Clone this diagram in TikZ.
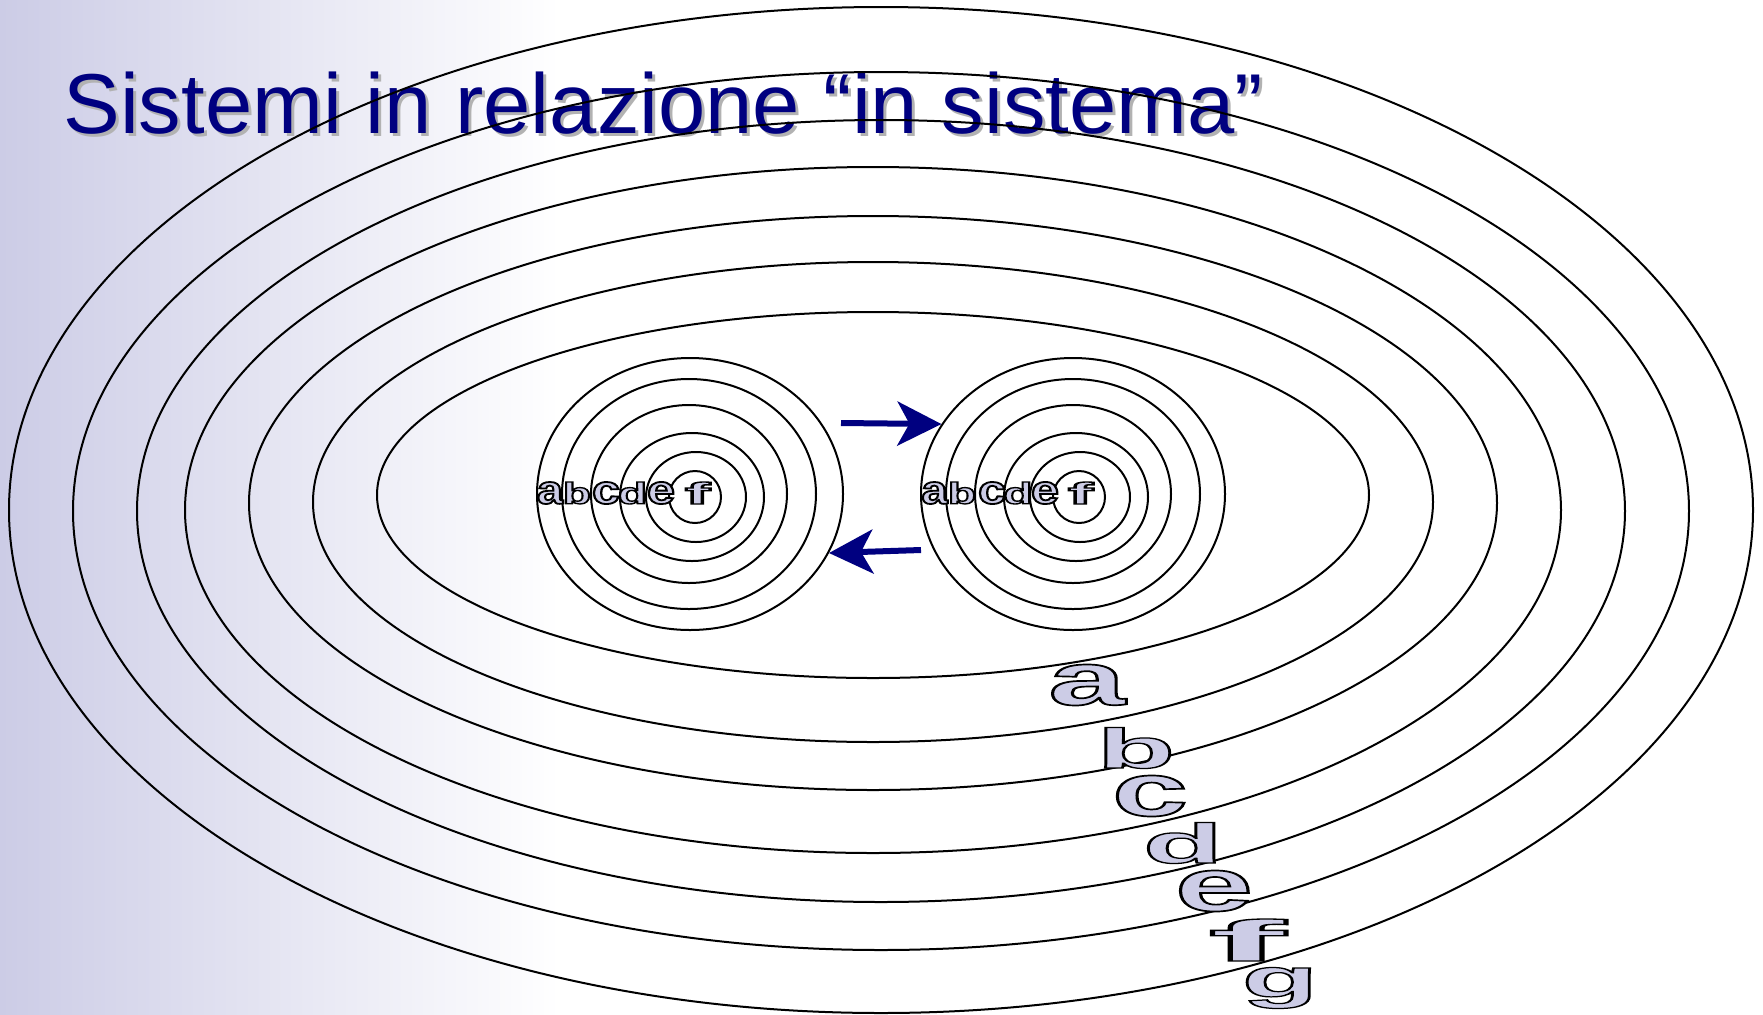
\documentclass[tikz,border=0pt]{standalone}
\usepackage{fontspec}
\setmainfont{Liberation Sans}
\usepackage{graphicx}
\usetikzlibrary{arrows.meta,positioning,shapes.geometric}
\definecolor{SlideNavy}{RGB}{0,0,128}
\definecolor{SlideLavender}{RGB}{204,204,230}
\definecolor{ShadowGray}{RGB}{178,178,178}
% filled letter with a black outline (text render mode 2)
\newcommand{\artletter}[3]{\resizebox*{#1}{#2}{\special{pdf:literal direct 2 Tr 0.45 w 0 0 0 RG}#3\special{pdf:literal direct 0 Tr}}}

\begin{document}
\begin{tikzpicture}[
  x=0.5pt, y=-0.5pt,
  orbit/.style={draw, ellipse, line width=1pt, inner sep=0pt},
  glyph/.style={inner sep=0pt, text=SlideLavender, font=\bfseries},
  bigglyph/.style={glyph, font=\fontsize{20}{24}\selectfont\bfseries},
  heading/.style={anchor=base west, inner sep=0pt, font=\fontsize{42.5}{50}\selectfont},
  arr/.style={-{Stealth[length=22pt, width=22pt, inset=6pt]}, line width=3pt, SlideNavy}
]
  \useasboundingbox (0,0) rectangle (1763,1014);
  \fill[white] (0,0) rectangle (1763,1014);
  \shade[left color=SlideLavender, right color=white] (0,0) rectangle (560,1014);

  % title with its shadow
  \node[heading, text=ShadowGray] (titleshadow) at (66,136) {Sistemi in relazione “in sistema”};
  \node[heading, text=SlideNavy] (title) at (63,133) {Sistemi in relazione “in sistema”};

  % the seven outer systems
  \node[orbit, minimum width=872pt, minimum height=503pt] (E1) at (881,510) {};
  \node[orbit, minimum width=808pt, minimum height=439pt] (E2) at (881,511) {};
  \node[orbit, minimum width=744pt, minimum height=391pt] (E3) at (881,511) {};
  \node[orbit, minimum width=688pt, minimum height=343pt] (E4) at (873,510) {};
  \node[orbit, minimum width=624pt, minimum height=287pt] (E5) at (873,503) {};
  \node[orbit, minimum width=560pt, minimum height=240pt] (E6) at (873,502) {};
  \node[orbit, minimum width=496pt, minimum height=183pt] (E7) at (873,495) {};

  % left system
  \node[orbit, minimum width=153pt, minimum height=136pt] (L1) at (690,494) {};
  \node[orbit, minimum width=127pt, minimum height=115pt] (L2) at (689,494) {};
  \node[orbit, minimum width=98pt, minimum height=89pt] (L3) at (689,494) {};
  \node[orbit, minimum width=72pt, minimum height=64pt] (L4) at (692,497) {};
  \node[orbit, minimum width=50pt, minimum height=45pt] (L5) at (696,497) {};
  \node[orbit, minimum width=26pt, minimum height=26pt] (L6) at (695,497) {};

  % right system
  \node[orbit, minimum width=152pt, minimum height=136pt] (R1) at (1073,494) {};
  \node[orbit, minimum width=127pt, minimum height=115pt] (R2) at (1073,494) {};
  \node[orbit, minimum width=98pt, minimum height=89pt] (R3) at (1073,494) {};
  \node[orbit, minimum width=72pt, minimum height=64pt] (R4) at (1076,497) {};
  \node[orbit, minimum width=50pt, minimum height=45pt] (R5) at (1080,497) {};
  \node[orbit, minimum width=26pt, minimum height=26pt] (R6) at (1079,497) {};

  % exchanges between the two systems
  \coordinate (fwdstart) at (841,423);
  \coordinate (backstart) at (921,550);
  \draw[arr] (fwdstart) -- (R1.152);
  \draw[arr] (backstart) -- (L1.-23);

  % labels of the left system
  \node[glyph] (la) at (550,493) {\artletter{13pt}{11pt}{a}};
  \node[glyph] (lb) at (577,493) {\artletter{14pt}{11pt}{b}};
  \node[glyph] (lc) at (606,493) {\artletter{14pt}{11pt}{c}};
  \node[glyph] (ld) at (632.5,493) {\artletter{14.5pt}{11pt}{d}};
  \node[glyph] (le) at (661,493) {\artletter{14pt}{11pt}{e}};
  \node[glyph] (lf) at (697.5,493) {\artletter{12.5pt}{11pt}{f}};

  % labels of the right system
  \node[glyph] (ra) at (934.5,493) {\artletter{13pt}{11pt}{a}};
  \node[glyph] (rb) at (962,493) {\artletter{14pt}{11pt}{b}};
  \node[glyph] (rc) at (992,493) {\artletter{14pt}{11pt}{c}};
  \node[glyph] (rd) at (1018,493) {\artletter{14.5pt}{11pt}{d}};
  \node[glyph] (re) at (1045,493) {\artletter{14pt}{11pt}{e}};
  \node[glyph] (rf) at (1080.5,493) {\artletter{12.5pt}{11pt}{f}};

  % labels of the outer systems
  \node[bigglyph] (ga) at (1087,685) {\artletter{38.5pt}{20.5pt}{a}};
  \node[bigglyph] (gb) at (1136,748) {\artletter{39pt}{20.5pt}{b}};
  \node[bigglyph] (gc) at (1150,796) {\artletter{38pt}{20.5pt}{c}};
  \node[bigglyph] (gd) at (1183,843) {\artletter{40pt}{20.5pt}{d}};
  \node[bigglyph] (ge) at (1214,891) {\artletter{39pt}{20.5pt}{e}};
  \node[bigglyph] (gf) at (1247,940) {\artletter{38.5pt}{21pt}{f}};
  \node[bigglyph] (gg) at (1280,988) {\artletter{38pt}{20.5pt}{g}};
\end{tikzpicture}
\end{document}
